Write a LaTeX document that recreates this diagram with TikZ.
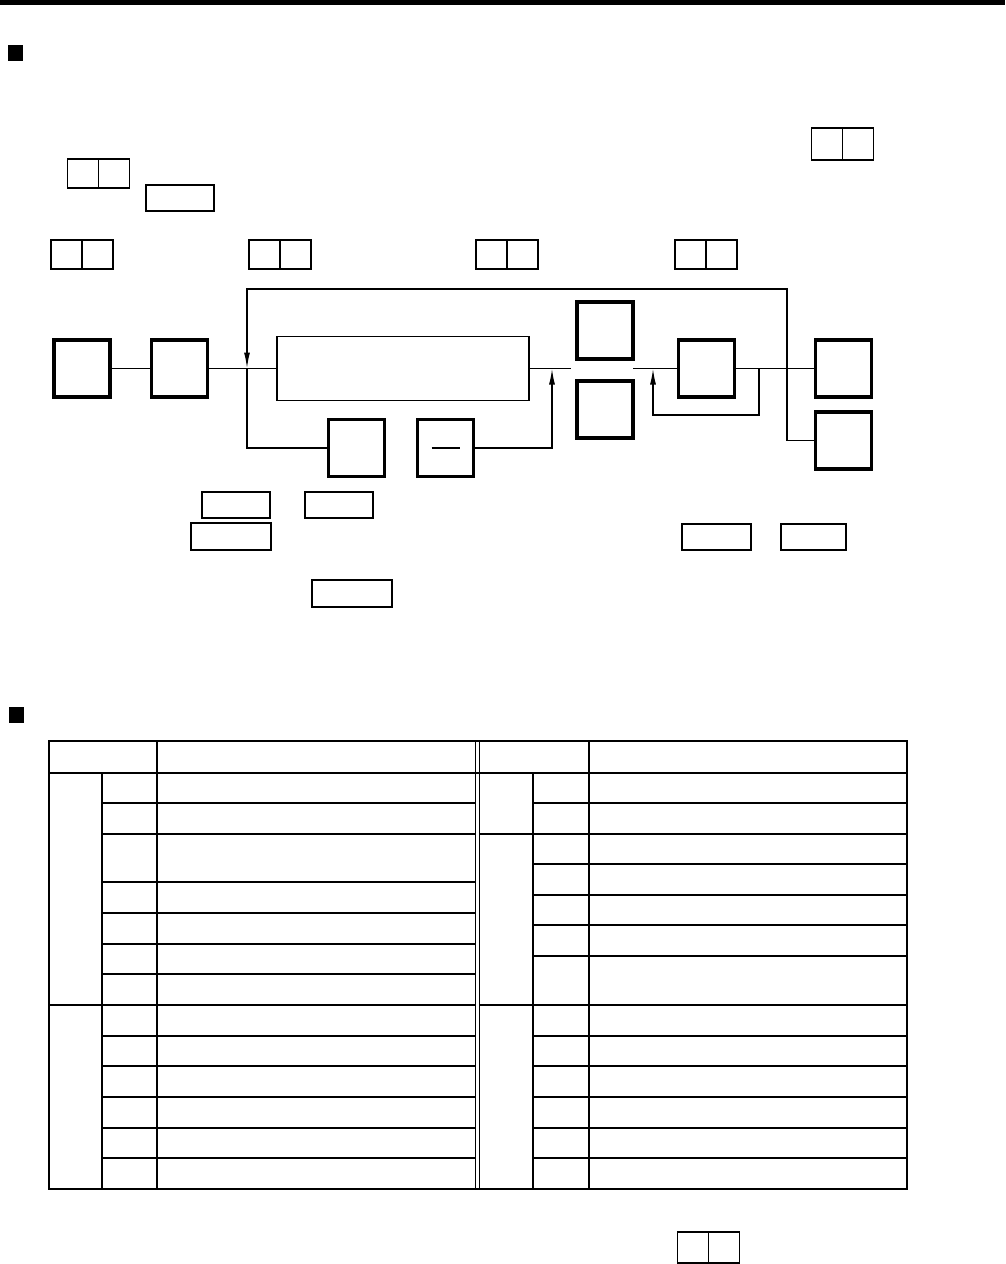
\documentclass[tikz,border=0pt]{standalone}
\usetikzlibrary{positioning,arrows.meta}

\tikzset{
  keycell/.style={draw, line width=1.2pt, minimum width=31pt, minimum height=30pt, inner sep=0pt, outer sep=0pt},
  keybox/.style={draw, line width=1.1pt, inner sep=0pt, outer sep=0pt},
  bigkey/.style={draw, line width=3.8pt, minimum width=56pt, minimum height=57pt, inner sep=0pt, outer sep=0pt},
  flow/.style={line width=1.5pt},
  grid/.style={line width=2pt},
}

\begin{document}
\begin{tikzpicture}[x=1pt, y=-1pt, >={Latex[length=16pt,width=6pt]}]
  \useasboundingbox (0,0) rectangle (1005,1264);

  % page rule and section marks
  \fill (0,0) rectangle (1005,4.5);
  \fill (8,45) rectangle (23,61);
  \fill (9,707) rectangle (24,723);

  % key pairs in the text
  \foreach \name/\x/\y/\h in {kpA/842.5/144/32, kpB/98.5/173.5/29, kpC/82/254.5/29, kpD/280/254.5/29,
                              kpE/507/254.5/29, kpF/706/254.5/29, kpG/708.5/1247.5/31} {
    \node[keycell, minimum height=\h pt] (\name l) at (\x-15.5,\y) {};
    \node[keycell, minimum height=\h pt, right=0pt of \name l] (\name r) {};
  }
  \node[keybox, minimum width=68pt, minimum height=26pt] (txtkey) at (180,198) {};

  % key sequence
  \node[bigkey] (Mode) at (82,368.5) {};
  \node[bigkey] (Start) at (179.5,368.5) {};
  \node[draw, line width=1.5pt, minimum width=252pt, minimum height=64pt, inner sep=0pt, outer sep=0pt] (Entry) at (403,368.5) {};
  \node[bigkey] (Plus) at (356.5,448) {};
  \node[bigkey] (Minus) at (445.5,448) {};
  \node[bigkey] (Upper) at (605,330.5) {};
  \node[bigkey] (Lower) at (605,409.5) {};
  \node[bigkey] (Set) at (706.5,368.5) {};
  \node[bigkey] (EndA) at (843.5,368.5) {};
  \node[bigkey] (EndB) at (843.5,440.5) {};
  \draw[line width=1.5pt] ([xshift=-14pt]Minus.center) -- ([xshift=14pt]Minus.center);

  \coordinate (jL) at (247,368.5);
  \coordinate (jM) at (552,368.5);
  \coordinate (gapL) at (571,368.5);
  \coordinate (gapR) at (633,368.5);
  \coordinate (jG) at (653,368.5);
  \coordinate (jS) at (759,368.5);
  \coordinate (sB) at (759,415);
  \coordinate (tR) at (787,289);
  \coordinate (tL) at (247,289);

  \draw[flow] (Mode) -- (Start);
  \draw[flow] (Start) -- (Entry);
  \draw[flow] (Entry.east) -- (gapL);
  \draw[flow] (gapR) -- (Set.west);
  \draw[flow] (Set) -- (EndA);
  \draw[flow] (jL) |- (Plus.west);
  \draw[flow, ->] (Minus.east) -| (jM);
  \draw[flow, ->] (jS) -- (sB) -| (jG);
  \draw[flow, ->] (EndB.west) -| (tR) -- (tL) -- (jL);

  % key notes
  \node[keybox, minimum width=68pt, minimum height=26pt] (noteA) at (236,505) {};
  \node[keybox, minimum width=68pt, minimum height=26pt] (noteB) at (339,505) {};
  \node[keybox, minimum width=80pt, minimum height=27pt] (noteC) at (231,536.5) {};
  \node[keybox, minimum width=69pt, minimum height=26pt] (noteD) at (716.5,537) {};
  \node[keybox, minimum width=65pt, minimum height=26pt] (noteE) at (813.5,537) {};
  \node[keybox, minimum width=80pt, minimum height=27pt] (noteF) at (352,593.5) {};

  % table
  \draw[line width=2.5pt] (49,741) rectangle (907,1189);
  \draw[grid] (49,773) -- (907,773);
  \draw[line width=1.5pt] (475.3,741) -- (475.3,1189);
  \draw[line width=1.5pt] (479.3,741) -- (479.3,1189);
  \draw[grid] (157,741) -- (157,1189);
  \draw[grid] (589,741) -- (589,1189);
  \draw[grid] (102,773) -- (102,1189);
  \draw[grid] (533,773) -- (533,1189);
  \draw[grid] (49,1005) -- (475.3,1005);
  \draw[grid] (479.3,1005) -- (907,1005);
  \draw[grid] (479.3,834) -- (907,834);
  \foreach \y in {803,834,882,913,944,974,1036,1066,1097,1128,1158}
    \draw[grid] (102,\y) -- (475.3,\y);
  \foreach \y in {803,864,895,925,956,1036,1066,1097,1128,1158}
    \draw[grid] (533,\y) -- (907,\y);
\end{tikzpicture}
\end{document}
